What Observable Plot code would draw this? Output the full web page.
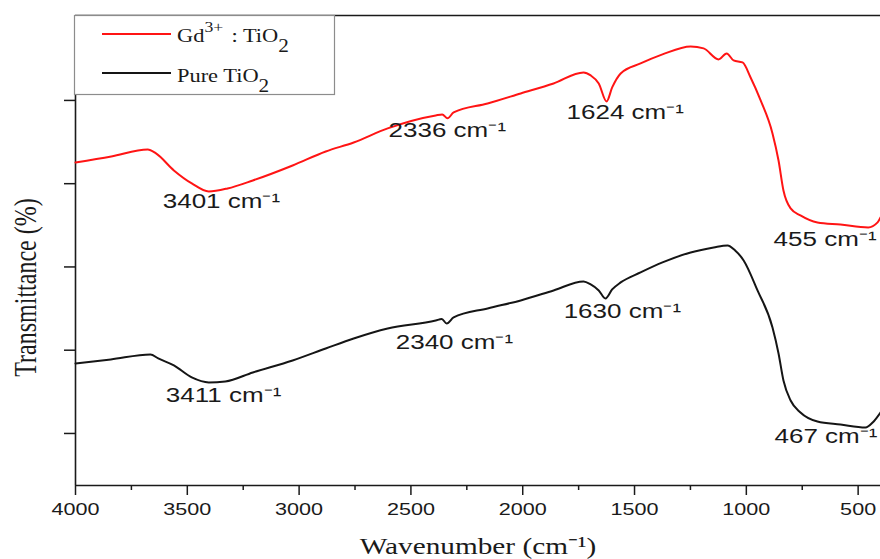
<!DOCTYPE html>
<html><head><meta charset="utf-8">
<script src="https://cdn.jsdelivr.net/npm/d3@7"></script>
<script src="https://cdn.jsdelivr.net/npm/@observablehq/plot@0.6"></script>
<style>
body{margin:0;background:#fff;}
#wrap{position:relative;width:880px;height:559px;overflow:hidden;background:#fff;}
#wrap svg{position:absolute;left:0;top:0;}
</style></head><body><div id="wrap"></div>
<script>
// Gd3+ : TiO2 (red)
const gdWavenumber = [4000, 3840, 3677, 3640, 3560, 3480, 3404, 3320, 3207, 3029, 2881, 2756, 2604, 2389, 2360, 2336, 2309, 2157, 2009, 1862, 1728, 1696, 1660, 1625, 1600, 1562, 1473, 1375, 1249, 1191, 1124, 1088, 1057, 1017, 981, 936, 883, 856, 834, 802, 758, 682, 579, 455, 413, 400];
const gdTransmittance = [42.55, 43.27, 44.11, 43.63, 41.59, 40.03, 39.07, 39.43, 40.39, 42.19, 43.87, 44.95, 46.64, 48.2, 48.32, 47.85, 48.56, 49.64, 50.84, 52.04, 53.36, 53.0, 52.04, 49.88, 51.56, 53.24, 54.44, 55.53, 56.49, 56.25, 54.93, 55.65, 54.8, 54.56, 52.76, 50.0, 46.04, 42.79, 39.19, 37.03, 36.19, 35.35, 35.1, 34.75, 35.35, 35.95];
// Pure TiO2 (black)
const pureWavenumber = [4000, 3842, 3665, 3630, 3560, 3480, 3404, 3330, 3207, 3029, 2881, 2756, 2604, 2389, 2362, 2340, 2309, 2157, 2009, 1862, 1728, 1696, 1660, 1630, 1600, 1562, 1473, 1375, 1249, 1146, 1084, 1050, 1012, 950, 883, 856, 834, 802, 758, 682, 579, 467, 435, 400];
const pureTransmittance = [18.41, 18.89, 19.49, 19.01, 18.17, 16.73, 16.13, 16.25, 17.33, 18.77, 20.21, 21.41, 22.61, 23.57, 23.75, 23.21, 23.93, 25.02, 25.98, 27.18, 28.26, 27.9, 27.18, 26.22, 27.3, 28.14, 29.34, 30.54, 31.74, 32.34, 32.58, 31.98, 30.78, 27.18, 22.73, 19.61, 16.37, 13.96, 12.52, 11.44, 11.08, 10.72, 11.32, 12.52];

const xTicks = [4000, 3500, 3000, 2500, 2000, 1500, 1000, 500];
const xMinorTicks = [3750, 3250, 2750, 2250, 1750, 1250, 750];
const yTicks = [10, 20, 30, 40, 50];
const xDomain = [4000, 400];
const yDomain = [3.75, 60.2];

const peakLabels = ["3401 cm\u207B\u00B9", "2336 cm\u207B\u00B9", "1624 cm\u207B\u00B9", "455 cm\u207B\u00B9", "3411 cm\u207B\u00B9", "2340 cm\u207B\u00B9", "1630 cm\u207B\u00B9", "467 cm\u207B\u00B9"];
const peakLabelX = [3610, 2600, 1804, 878, 3596, 2568, 1817, 874];
const peakLabelY = [37.03, 45.56, 47.72, 32.46, 13.72, 20.09, 23.81, 8.8];

const xLabel = "Wavenumber (cm\u207B\u00B9)";
const yLabel = "Transmittance (%)";
const seriesColors = ["#ff1414", "#151515"];
const seriesParts = [
  [{t: "Gd"}, {t: "3+", sup: true}, {t: ": TiO", dx: 7}, {t: "2", sub: true}],
  [{t: "Pure TiO"}, {t: "2", sub: true}]
];

const sans = "'Liberation Sans', Arial, sans-serif";
const serif = "'Liberation Serif', 'Times New Roman', serif";
const ink = "#1a1a1a";

const chart = Plot.plot({
  width: 880, height: 559,
  marginLeft: 75, marginRight: 0, marginTop: 15, marginBottom: 74,
  style: {background: "#fff", color: ink, fontFamily: sans, fontSize: "17px"},
  x: {domain: xDomain},
  y: {domain: yDomain},
  marks: [
    Plot.axisX(xTicks, {tickSize: 10, tickPadding: 7, strokeWidth: 1.5, tickFormat: "d", label: null, fontSize: 17}),
    Plot.axisX(xMinorTicks, {tickSize: 5, strokeWidth: 1.5, tickFormat: () => "", label: null}),
    Plot.axisY(yTicks, {tickSize: 11, strokeWidth: 1.5, tickFormat: () => "", label: null}),
    Plot.ruleY([yDomain[0], yDomain[1]], {stroke: ink, strokeWidth: 1.6}),
    Plot.ruleX([xDomain[0]], {stroke: ink, strokeWidth: 1.6}),
    Plot.line(gdWavenumber, {x: gdWavenumber, y: gdTransmittance, stroke: seriesColors[0], strokeWidth: 2, curve: "monotone-x"}),
    Plot.line(pureWavenumber, {x: pureWavenumber, y: pureTransmittance, stroke: seriesColors[1], strokeWidth: 2, curve: "monotone-x"}),
    Plot.text(peakLabels, {x: peakLabelX, y: peakLabelY, text: d => d, textAnchor: "start", lineAnchor: "bottom", fontSize: 20, fontFamily: sans, fill: ink}),
    Plot.text([xLabel], {frameAnchor: "bottom", textAnchor: "middle", dy: 68, lineAnchor: "bottom", fontSize: 24, fontFamily: serif, fill: ink}),
    Plot.text([yLabel], {frameAnchor: "left", textAnchor: "middle", rotate: -90, dx: -40, dy: 37, lineAnchor: "bottom", fontSize: 24, fontFamily: serif, fill: ink})
  ]
});

const wrap = document.getElementById("wrap");
wrap.append(chart);

function stretchText(t, k) {
  const w = t.getComputedTextLength();
  if (w > 0) {
    t.setAttribute("textLength", w * k);
    t.setAttribute("lengthAdjust", "spacingAndGlyphs");
  }
}
chart.querySelectorAll('g[aria-label="x-axis tick label"] text').forEach(t => stretchText(t, 1.27));
chart.querySelectorAll("text").forEach(t => {
  const s = t.textContent;
  if (peakLabels.includes(s)) stretchText(t, 1.3);
  else if (s === xLabel) stretchText(t, 1.22);
  else if (s === yLabel) {
    const tr = t.getAttribute("transform");
    if (tr) t.setAttribute("transform", tr + " scale(1,1.3)");
  }
});

// legend
const legend = d3.create("svg").attr("width", 880).attr("height", 559);
legend.append("rect").attr("x", 74.5).attr("y", 15.5).attr("width", 260).attr("height", 79)
  .attr("fill", "#fff").attr("stroke", "#8c8c8c").attr("stroke-width", 1.2);
const rowY = [34, 73];
const textY = [42, 82];
seriesParts.forEach((parts, i) => {
  legend.append("line").attr("x1", 102).attr("x2", 171).attr("y1", rowY[i]).attr("y2", rowY[i])
    .attr("stroke", seriesColors[i]).attr("stroke-width", 1.8);
  const g = legend.append("g").attr("transform", `translate(177,${textY[i]}) scale(1.18,1)`);
  const text = g.append("text").attr("font-family", serif).attr("font-size", 19).attr("fill", ink);
  let level = 0;
  parts.forEach(p => {
    const target = p.sup ? -10 : p.sub ? 10 : 0;
    const ts = text.append("tspan").text(p.t).attr("dy", target - level);
    if (p.dx) ts.attr("dx", p.dx);
    if (p.sup) ts.attr("font-size", 15);
    if (p.sub) ts.attr("font-size", 18);
    level = target;
  });
});
wrap.append(legend.node());
</script>
</body></html>
